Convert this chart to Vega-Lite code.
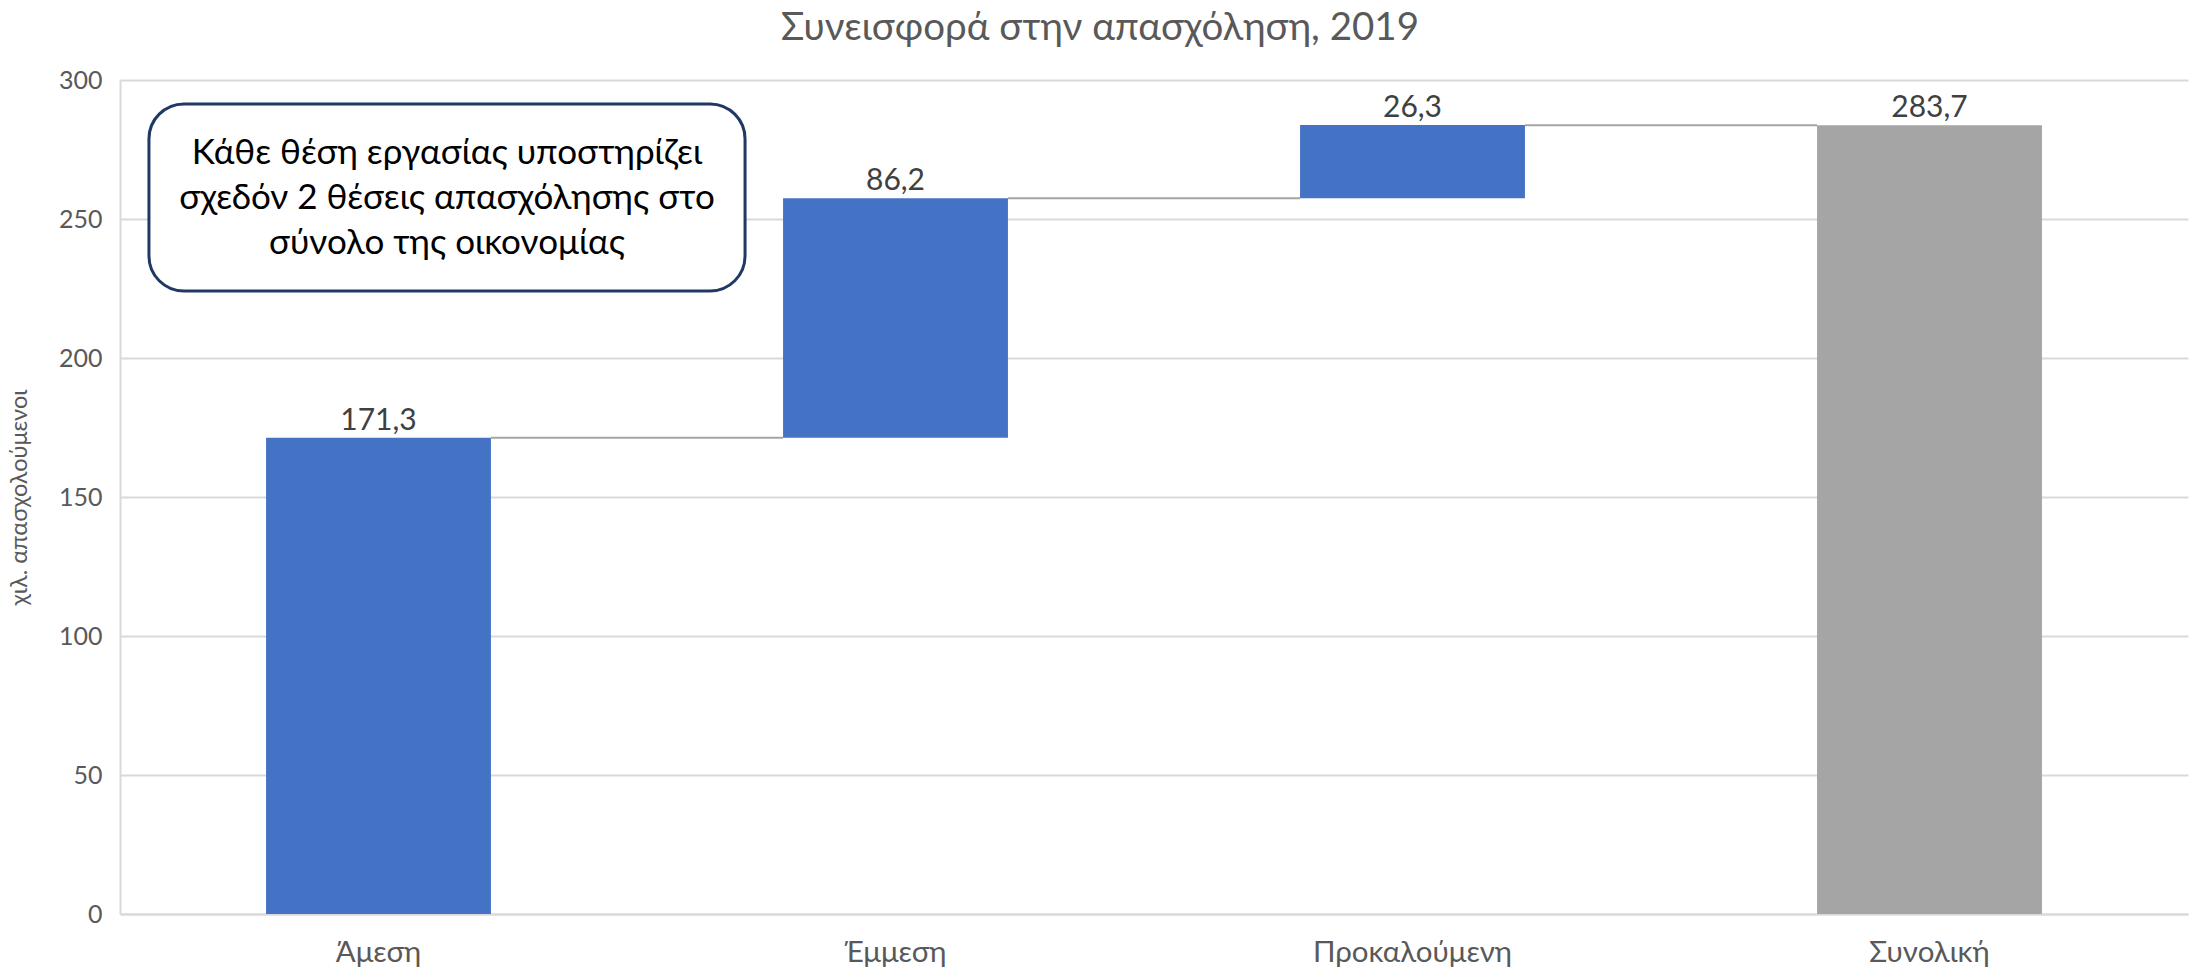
{
  "$schema": "https://vega.github.io/schema/vega-lite/v6.json",
  "width": 2068,
  "height": 834,
  "autosize": {"type": "none"},
  "padding": {"left": 120, "top": 80, "right": 13, "bottom": 56},
  "background": "white",
  "title": {"text": "Συνεισφορά στην απασχόληση, 2019", "font": "Lato", "fontSize": 38.5, "fontWeight": "normal", "color": "#595959", "anchor": "middle", "dx": -54, "offset": 20},
  "config": {"view": {"stroke": null}, "font": "Lato"},
  "datasets": {
    "bars": [
      {"cat": "Άμεση", "start": 0, "end": 171.3, "label": "171,3", "type": "αύξηση"},
      {"cat": "Έμμεση", "start": 171.3, "end": 257.5, "label": "86,2", "type": "αύξηση"},
      {"cat": "Προκαλούμενη", "start": 257.5, "end": 283.8, "label": "26,3", "type": "αύξηση"},
      {"cat": "Συνολική", "start": 0, "end": 283.7, "label": "283,7", "type": "σύνολο"}
    ],
    "links": [
      {"from": "Άμεση", "to": "Έμμεση", "level": 171.3},
      {"from": "Έμμεση", "to": "Προκαλούμενη", "level": 257.5},
      {"from": "Προκαλούμενη", "to": "Συνολική", "level": 283.7}
    ],
    "note": [
      {"x0": 0.056, "x1": 1.209, "y0": 224.1, "y1": 291.4, "xc": 0.6325, "yc": 273.7, "text": "Κάθε θέση εργασίας υποστηρίζει\nσχεδόν 2 θέσεις απασχόλησης στο\nσύνολο της οικονομίας"}
    ]
  },
  "layer": [
    {
      "layer": [
        {
          "data": {"name": "bars"},
          "mark": {"type": "bar"},
          "encoding": {
            "x": {"field": "cat", "type": "nominal", "title": null,
              "scale": {"domain": ["Άμεση", "Έμμεση", "Προκαλούμενη", "Συνολική"], "paddingInner": 0.565, "paddingOuter": 0.2825},
              "axis": {"labelAngle": 0, "labelFontSize": 29.5, "labelLimit": 0, "labelColor": "#595959", "labelPadding": 24, "ticks": false, "domainColor": "#d9d9d9", "domainWidth": 2, "labelFont": "Lato"}},
            "y": {"field": "start", "type": "quantitative", "title": "χιλ. απασχολούμενοι",
              "scale": {"domain": [0, 300], "nice": false},
              "axis": {"values": [0, 50, 100, 150, 200, 250, 300], "gridColor": "#d9d9d9", "gridWidth": 2, "domainColor": "#d9d9d9", "domainWidth": 2, "ticks": false, "labelPadding": 18, "labelFontSize": 25, "labelColor": "#595959", "titleFontSize": 23.5, "titleFontWeight": "normal", "titleColor": "#595959", "titlePadding": 27, "labelFont": "Lato", "titleFont": "Lato"}},
            "y2": {"field": "end"},
            "color": {"field": "type", "type": "nominal", "scale": {"domain": ["αύξηση", "σύνολο"], "range": ["#4472c4", "#a5a5a5"]}, "legend": null}
          }
        },
        {
          "data": {"name": "links"},
          "mark": {"type": "rule", "color": "#a5a5a5", "strokeWidth": 2},
          "encoding": {
            "x": {"field": "from", "type": "nominal", "bandPosition": 1, "title": null},
            "x2": {"field": "to", "bandPosition": 0},
            "y": {"field": "level", "type": "quantitative", "title": "χιλ. απασχολούμενοι"}
          }
        },
        {
          "data": {"name": "bars"},
          "mark": {"type": "text", "baseline": "alphabetic", "dy": -8, "fontSize": 30, "color": "#404040", "font": "Lato"},
          "encoding": {
            "x": {"field": "cat", "type": "nominal", "title": null},
            "y": {"field": "end", "type": "quantitative", "title": "χιλ. απασχολούμενοι"},
            "text": {"field": "label"}
          }
        }
      ]
    },
    {
      "data": {"name": "note"},
      "layer": [
        {
          "mark": {"type": "rect", "fill": "white", "stroke": "#1f3864", "strokeWidth": 3, "cornerRadius": 35},
          "encoding": {
            "x": {"field": "x0", "type": "quantitative", "scale": {"domain": [0, 4], "nice": false, "zero": false}, "axis": null},
            "x2": {"field": "x1"},
            "y": {"field": "y0", "type": "quantitative", "title": "χιλ. απασχολούμενοι"},
            "y2": {"field": "y1"}
          }
        },
        {
          "mark": {"type": "text", "lineBreak": "\n", "lineHeight": 45, "fontSize": 35, "color": "#000000", "font": "Lato", "baseline": "middle", "align": "center"},
          "encoding": {
            "x": {"field": "xc", "type": "quantitative", "axis": null},
            "y": {"field": "yc", "type": "quantitative", "title": "χιλ. απασχολούμενοι"},
            "text": {"field": "text"}
          }
        }
      ]
    }
  ],
  "resolve": {"scale": {"x": "independent"}}
}
